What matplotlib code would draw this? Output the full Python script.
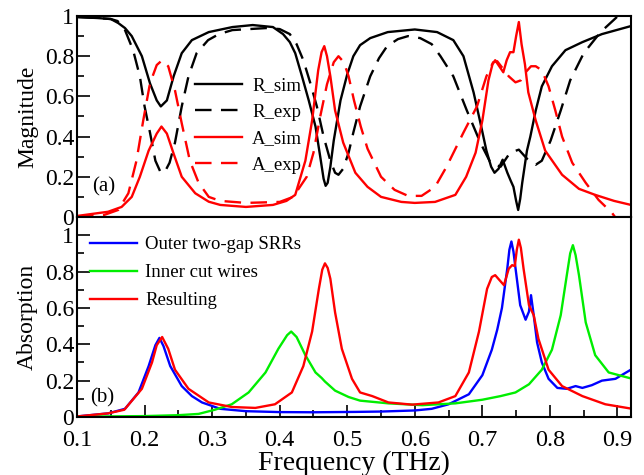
import matplotlib
matplotlib.use('agg')
import matplotlib.pyplot as plt
from matplotlib.ticker import MultipleLocator
from matplotlib import font_manager
import numpy as np

# pick a Times-like face if one is installed
names = {f.name for f in font_manager.fontManager.ttflist}
serif = [n for n in ['Liberation Serif', 'Times New Roman', 'Nimbus Roman', 'DejaVu Serif'] if n in names]
plt.rcParams['font.family'] = 'serif'
plt.rcParams['font.serif'] = serif
plt.rcParams['font.size'] = 15

# ---- panel (a): reflection / absorption, simulated and measured ----
f_rsim = [0.10, 0.13, 0.15, 0.161, 0.171, 0.181, 0.196, 0.208, 0.218, 0.224, 0.233, 0.243,
          0.255, 0.27, 0.295, 0.33, 0.36, 0.39, 0.405, 0.415, 0.423, 0.433, 0.443, 0.453,
          0.46, 0.465, 0.468, 0.471, 0.475, 0.48, 0.49, 0.50, 0.509, 0.519, 0.534, 0.56, 0.60,
          0.633, 0.657, 0.672, 0.687, 0.697, 0.706, 0.713, 0.718, 0.724, 0.730, 0.737,
          0.742, 0.746, 0.750, 0.753, 0.756, 0.759, 0.766, 0.771, 0.779, 0.788, 0.803,
          0.823, 0.848, 0.877, 0.92]
r_sim = [0.995, 0.99, 0.985, 0.965, 0.94, 0.90, 0.80, 0.665, 0.58, 0.55, 0.58, 0.70,
         0.815, 0.88, 0.92, 0.945, 0.955, 0.945, 0.91, 0.87, 0.815, 0.70, 0.58, 0.45,
         0.30, 0.19, 0.155, 0.17, 0.25, 0.38, 0.58, 0.71, 0.80, 0.855, 0.89, 0.92, 0.933,
         0.92, 0.88, 0.80, 0.62, 0.47, 0.33, 0.25, 0.22, 0.24, 0.285, 0.22,
         0.18, 0.15, 0.08, 0.035, 0.09, 0.17, 0.33, 0.40, 0.53, 0.65, 0.75,
         0.83, 0.87, 0.91, 0.95]

f_rexp = [0.10, 0.13, 0.15, 0.16, 0.171, 0.183, 0.193, 0.20, 0.208, 0.216, 0.224, 0.23,
          0.237, 0.245, 0.255, 0.265, 0.277, 0.294, 0.31, 0.33, 0.38, 0.40, 0.415, 0.425,
          0.435, 0.445, 0.455, 0.465, 0.475, 0.482, 0.487, 0.494, 0.502, 0.509, 0.519,
          0.534, 0.547, 0.559, 0.575, 0.59, 0.608, 0.625, 0.638, 0.657, 0.677, 0.697,
          0.712, 0.727, 0.741, 0.754, 0.766, 0.779, 0.788, 0.801, 0.816, 0.83, 0.85,
          0.875, 0.904, 0.92]
r_exp = [0.995, 0.99, 0.985, 0.975, 0.93, 0.83, 0.70, 0.55, 0.42, 0.28, 0.22, 0.225,
         0.27, 0.37, 0.55, 0.70, 0.815, 0.88, 0.91, 0.93, 0.94, 0.935, 0.91, 0.86,
         0.78, 0.67, 0.55, 0.40, 0.28, 0.22, 0.21, 0.24, 0.32, 0.42, 0.55,
         0.70, 0.79, 0.85, 0.885, 0.90, 0.89, 0.86, 0.80, 0.70, 0.53, 0.37,
         0.27, 0.25, 0.32, 0.335, 0.29, 0.26, 0.28, 0.38, 0.53, 0.68, 0.815,
         0.92, 1.01, 1.06]

f_asim = [0.10, 0.146, 0.166, 0.181, 0.193, 0.206, 0.218, 0.225, 0.233, 0.243, 0.255, 0.275,
          0.295, 0.312, 0.35, 0.39, 0.41, 0.423, 0.438, 0.448, 0.457, 0.462, 0.466, 0.470,
          0.475, 0.482, 0.494, 0.512, 0.53, 0.55, 0.58, 0.60, 0.63, 0.66, 0.676, 0.69, 0.70,
          0.709, 0.715, 0.719, 0.725, 0.731, 0.736, 0.741, 0.746, 0.750, 0.754, 0.758,
          0.763, 0.768, 0.779, 0.793, 0.818, 0.843, 0.867, 0.895, 0.92]
a_sim = [0.005, 0.026, 0.05, 0.10, 0.20, 0.33, 0.415, 0.45, 0.415, 0.315, 0.20, 0.118,
         0.076, 0.06, 0.05, 0.06, 0.08, 0.11, 0.28, 0.48, 0.73, 0.82, 0.85, 0.80,
         0.70, 0.53, 0.37, 0.22, 0.15, 0.10, 0.075, 0.07, 0.075, 0.11, 0.20, 0.32, 0.48,
         0.68, 0.76, 0.78, 0.75, 0.72, 0.78, 0.82, 0.82, 0.90, 0.97, 0.86,
         0.76, 0.62, 0.48, 0.33, 0.21, 0.14, 0.11, 0.08, 0.06]

f_aexp = [0.10, 0.14, 0.161, 0.176, 0.188, 0.198, 0.208, 0.218, 0.226, 0.235, 0.245, 0.255,
          0.267, 0.28, 0.295, 0.312, 0.35, 0.40, 0.42, 0.44, 0.45, 0.46, 0.47, 0.48,
          0.487, 0.495, 0.502, 0.51, 0.52, 0.53, 0.55, 0.57, 0.59, 0.61, 0.63, 0.647,
          0.672, 0.692, 0.706, 0.716, 0.722, 0.73, 0.739, 0.749, 0.757, 0.764, 0.772,
          0.779, 0.788, 0.798, 0.808, 0.818, 0.833, 0.853, 0.872, 0.892, 0.905, 0.92]
a_exp = [0.003, 0.01, 0.035, 0.118, 0.28, 0.48, 0.665, 0.756, 0.78, 0.75, 0.63, 0.466,
         0.28, 0.17, 0.10, 0.08, 0.07, 0.075, 0.10, 0.20, 0.32, 0.50, 0.66, 0.77,
         0.80, 0.77, 0.70, 0.58, 0.45, 0.34, 0.20, 0.135, 0.105, 0.105, 0.15, 0.25,
         0.42, 0.55, 0.70, 0.77, 0.775, 0.74, 0.70, 0.67, 0.68, 0.72, 0.75,
         0.75, 0.73, 0.65, 0.53, 0.40, 0.27, 0.17, 0.085, 0.02, -0.04, -0.10]

# ---- panel (b): absorption of the separate parts ----
f_srr = [0.10, 0.146, 0.171, 0.191, 0.206, 0.216, 0.222, 0.228, 0.238, 0.255, 0.27, 0.285,
         0.312, 0.35, 0.40, 0.45, 0.512, 0.55, 0.60, 0.625, 0.65, 0.68, 0.70, 0.714,
         0.722, 0.729, 0.737, 0.740, 0.743, 0.746, 0.749, 0.756, 0.764, 0.769, 0.772, 0.776,
         0.781, 0.788, 0.798, 0.811, 0.825, 0.838, 0.848, 0.862, 0.877, 0.897, 0.922]
a_srr = [0.003, 0.02, 0.045, 0.135, 0.28, 0.395, 0.435, 0.39, 0.28, 0.17, 0.115, 0.08,
         0.045, 0.032, 0.027, 0.026, 0.028, 0.03, 0.036, 0.045, 0.07, 0.125, 0.23, 0.37,
         0.48, 0.60, 0.82, 0.92, 0.965, 0.91, 0.82, 0.615, 0.535, 0.58, 0.67, 0.56,
         0.41, 0.30, 0.21, 0.16, 0.155, 0.17, 0.16, 0.175, 0.20, 0.21, 0.265]

f_wire = [0.10, 0.20, 0.25, 0.28, 0.304, 0.329, 0.354, 0.379, 0.398, 0.411, 0.417, 0.425,
          0.438, 0.453, 0.462, 0.467, 0.482, 0.502, 0.519, 0.561, 0.611, 0.66, 0.70,
          0.727, 0.749, 0.769, 0.788, 0.803, 0.816, 0.825, 0.830, 0.834, 0.838, 0.843,
          0.853, 0.867, 0.887, 0.922]
a_wire = [0.002, 0.005, 0.01, 0.017, 0.04, 0.07, 0.135, 0.245, 0.375, 0.45, 0.47, 0.44,
          0.34, 0.245, 0.215, 0.195, 0.145, 0.11, 0.09, 0.075, 0.065, 0.075, 0.095,
          0.115, 0.135, 0.18, 0.26, 0.37, 0.56, 0.78, 0.90, 0.945, 0.89, 0.78,
          0.52, 0.34, 0.245, 0.21]

f_res = [0.10, 0.146, 0.17, 0.196, 0.211, 0.218, 0.226, 0.235, 0.245, 0.265, 0.295, 0.329,
         0.364, 0.393, 0.418, 0.435, 0.448, 0.458, 0.463, 0.467, 0.471, 0.475, 0.482, 0.492,
         0.507, 0.519, 0.537, 0.561, 0.596, 0.635, 0.66, 0.68, 0.695, 0.707, 0.714, 0.719,
         0.726, 0.732, 0.739, 0.744, 0.748, 0.751, 0.754, 0.757, 0.761, 0.769, 0.776,
         0.783, 0.798, 0.818, 0.848, 0.882, 0.922]
a_res = [0.003, 0.02, 0.04, 0.155, 0.30, 0.395, 0.44, 0.375, 0.26, 0.155, 0.08, 0.055,
         0.05, 0.07, 0.135, 0.28, 0.47, 0.705, 0.81, 0.845, 0.82, 0.76, 0.575, 0.375,
         0.21, 0.135, 0.115, 0.08, 0.068, 0.08, 0.115, 0.245, 0.47, 0.705, 0.77, 0.78,
         0.75, 0.725, 0.815, 0.835, 0.83, 0.92, 0.975, 0.93, 0.815, 0.615, 0.56,
         0.43, 0.26, 0.17, 0.115, 0.07, 0.045]

fig = plt.figure(figsize=(6.44, 4.75), dpi=100)
ax1 = fig.add_axes([0.1196, 0.5432, 0.8602, 0.4231])
ax2 = fig.add_axes([0.1196, 0.1221, 0.8602, 0.4211])

lw = 1.7
dash = (0, (7, 4))
ax1.plot(f_rsim, r_sim, color='black', lw=lw, label='R_sim')
ax1.plot(f_rexp, r_exp, color='black', lw=lw, ls=dash, label='R_exp')
ax1.plot(f_asim, a_sim, color='red', lw=lw, label='A_sim')
ax1.plot(f_aexp, a_exp, color='red', lw=lw, ls=dash, label='A_exp')

ax2.plot(f_srr, a_srr, color='blue', lw=lw, label='Outer two-gap SRRs')
ax2.plot(f_wire, a_wire, color='#00ee00', lw=lw, label='Inner cut wires')
ax2.plot(f_res, a_res, color='red', lw=lw, label='Resulting')

for ax in (ax1, ax2):
    ax.set_xlim(0.1, 0.92)
    ax.xaxis.set_major_locator(MultipleLocator(0.1))
    ax.xaxis.set_minor_locator(MultipleLocator(0.05))
    ax.yaxis.set_major_locator(MultipleLocator(0.2))
    ax.yaxis.set_minor_locator(MultipleLocator(0.1))
    ax.tick_params(axis='y', which='both', direction='in', labelsize=17, pad=2)
    ax.tick_params(axis='y', which='major', length=9, width=1.2)
    ax.tick_params(axis='y', which='minor', length=5, width=1.2)
    for s in ax.spines.values():
        s.set_linewidth(1.5)

ax1.set_ylim(0, 1)
ax1.set_yticks([0, 0.2, 0.4, 0.6, 0.8, 1])
ax1.set_yticklabels(['0', '0.2', '0.4', '0.6', '0.8', '1'])
ax1.tick_params(axis='x', which='both', direction='out', labelbottom=False)
ax1.tick_params(axis='x', which='major', length=9, width=1.2)
ax1.tick_params(axis='x', which='minor', length=5, width=1.2)
ax1.set_ylabel('Magnitude', fontsize=17, labelpad=5)
ax1.text(0.027, 0.125, '(a)', transform=ax1.transAxes, fontsize=15)
ax1.legend(loc='upper left', bbox_to_anchor=(0.213, 0.696), frameon=False,
           borderpad=0, borderaxespad=0, fontsize=13.5,
           handlelength=2.5, handletextpad=0.55, labelspacing=0.5)

ax2.set_ylim(0, 1.1)
ax2.set_yticks([0, 0.2, 0.4, 0.6, 0.8, 1])
ax2.set_yticklabels(['0', '0.2', '0.4', '0.6', '0.8', '1'])
ax2.tick_params(axis='x', which='both', direction='in', labelsize=17.5, pad=9)
ax2.tick_params(axis='x', which='major', length=9, width=1.2)
ax2.tick_params(axis='x', which='minor', length=5, width=1.2)
ax2.set_xticks(np.arange(0.1, 0.95, 0.1))
ax2.set_xticklabels(['0.1', '0.2', '0.3', '0.4', '0.5', '0.6', '0.7', '0.8', '0.9'])
ax2.set_ylabel('Absorption', fontsize=17, labelpad=5)
ax2.set_xlabel('Frequency (THz)', fontsize=20, labelpad=0)
ax2.text(0.023, 0.075, '(b)', transform=ax2.transAxes, fontsize=15)
ax2.legend(loc='upper left', bbox_to_anchor=(0.023, 0.905), frameon=False,
           borderpad=0, borderaxespad=0, fontsize=13.5,
           handlelength=2.5, handletextpad=0.45, labelspacing=0.58)

fig.align_ylabels([ax1, ax2])
plt.savefig('out.png', dpi=100)
plt.close()
